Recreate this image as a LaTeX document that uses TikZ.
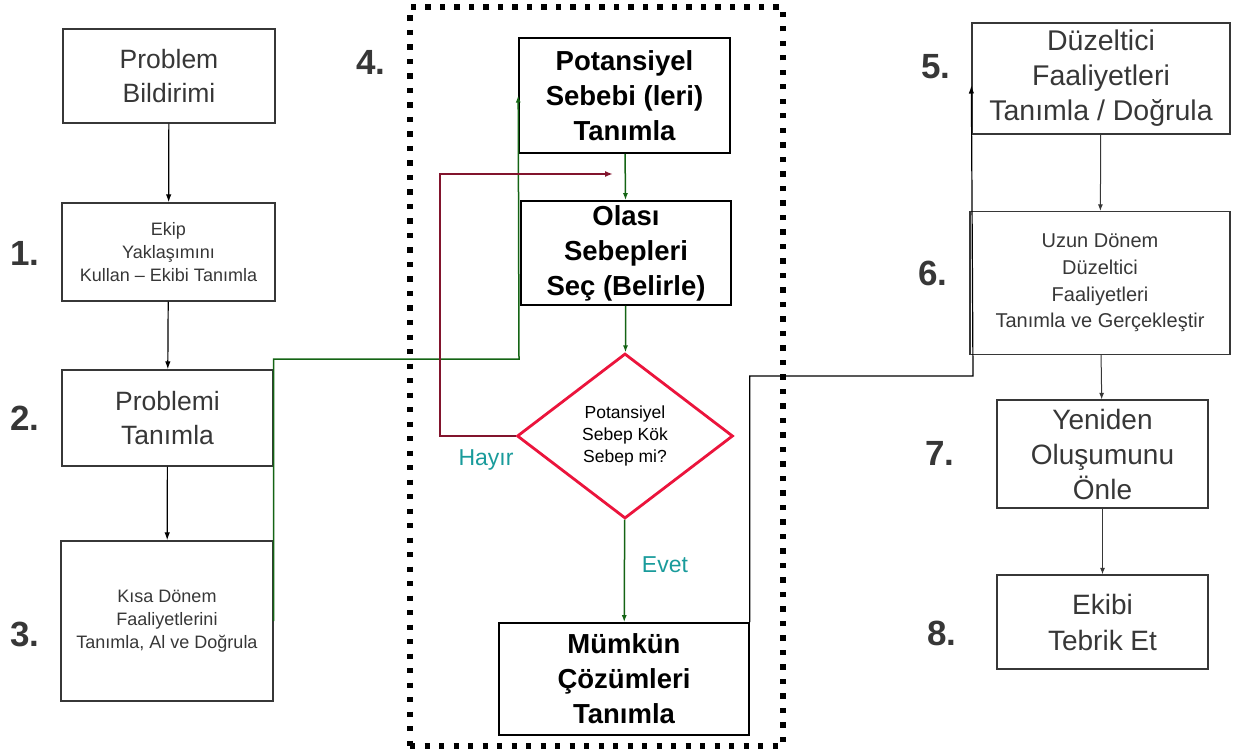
\documentclass[tikz,border=0pt]{standalone}
\usepackage{fontspec}
\setmainfont{Liberation Sans}
\usetikzlibrary{arrows.meta,shapes.geometric}
\definecolor{boxgray}{RGB}{55,55,55}
\definecolor{stepgreen}{RGB}{20,100,20}
\definecolor{loopred}{RGB}{130,20,45}
\definecolor{askred}{RGB}{235,20,60}
\definecolor{answerteal}{RGB}{25,155,155}
\newcommand{\bigfs}{\fontsize{26.5}{34}\selectfont}
\newcommand{\smallfs}{\fontsize{18}{23}\selectfont}
\tikzset{
  stepbox/.style={rectangle,draw=boxgray,line width=1.3pt,align=center,
    inner sep=0pt,text=boxgray},
  keybox/.style={rectangle,draw=black,line width=1.6pt,align=center,
    inner sep=0pt,font=\fontsize{27.5}{35}\selectfont\bfseries},
  stepno/.style={font=\fontsize{35}{40}\selectfont\bfseries,text=boxgray},
  plain/.style={-{Latex[length=8pt,width=5.5pt]},line width=1.2pt,draw=black}}

\begin{document}
\begin{tikzpicture}[x=1pt,y=-1pt,
  askbox/.style={diamond,draw=askred,line width=2.8pt,inner sep=0pt,
    minimum width=216pt,minimum height=165pt,align=center,
    font=\fontsize{17.5}{22}\selectfont},
  frame/.style={draw=black,line width=5.4pt,
    dash pattern=on 5.4pt off 9.1pt,minimum width=373pt,minimum height=739pt},
  green edge/.style={-{Latex[length=7pt,width=5pt]},line width=1.5pt,
    draw=stepgreen},
  loop edge/.style={-{Latex[length=8pt,width=6pt]},line width=1.7pt,
    draw=loopred},
  thin edge/.style={-{Latex[length=6.5pt,width=5pt]},line width=1pt,
    draw=boxgray},
  answer/.style={font=\fontsize{23}{27}\selectfont,text=answerteal}]

  \useasboundingbox (0,0) rectangle (1236,754);

  \node[frame] (frm) at (596.5,376.5) {};

  % left column
  \node[stepno] (n1) at (25,253) {1.};
  \node[stepno] (n2) at (25,418) {2.};
  \node[stepno] (n3) at (25,634) {3.};
  \node[stepbox,minimum width=212pt,minimum height=94pt,font=\bigfs]
    (pb) at (169,76) {Problem\\Bildirimi};
  \node[stepbox,minimum width=213pt,minimum height=98pt,font=\smallfs]
    (ek) at (168.5,252) {Ekip\\Yakla\c{s}\i m\i n\i\\Kullan -- Ekibi Tan\i mla};
  \node[stepbox,minimum width=211pt,minimum height=96pt,font=\bigfs]
    (pt) at (167.5,418) {Problemi\\Tan\i mla};
  \node[stepbox,minimum width=212pt,minimum height=160pt,font=\smallfs]
    (kd) at (167,621) {K\i sa D\"onem\\Faaliyetlerini\\Tan\i mla, Al ve Do\u{g}rula};

  \draw[plain] (pb) -- (ek);
  \draw[plain] (ek) -- (pt);
  \draw[plain] (pt) -- (kd);

  % middle column
  \node[stepno] (n4) at (371,62) {4.};
  \node[keybox,minimum width=211pt,minimum height=115pt]
    (ps) at (624.5,95.5) {Potansiyel\\Sebebi (leri)\\Tan\i mla};
  \node[keybox,minimum width=210pt,minimum height=104pt]
    (os) at (626,253) {Olas\i\\Sebepleri\\Se\c{c} (Belirle)};
  \node[askbox] (ask) at (625,436) {Potansiyel\\Sebep K\"ok\\Sebep mi?};
  \node[keybox,minimum width=250pt,minimum height=112pt]
    (mc) at (624,679) {M\"umk\"un\\\c{C}\"oz\"umleri\\Tan\i mla};
  \node[answer] (no) at (486,460) {Hay\i r};
  \node[answer] (yes) at (665,565) {Evet};

  \coordinate (gturn) at (519,359);
  \coordinate (rturn) at (440,174);
  \coordinate (rtip) at (613,174);
  \coordinate (bturn) at (973,376);

  \draw[green edge] (kd.east) |- (gturn) -- (ps.west);
  \draw[green edge] (ps) -- (os);
  \draw[green edge] (os) -- (ask);
  \draw[green edge] (ask) -- (mc);
  \draw[loop edge] (ask.west) -| (rturn) -- (rtip);

  % right column
  \node[stepno] (n5) at (936,67) {5.};
  \node[stepno] (n6) at (933,273) {6.};
  \node[stepno] (n7) at (940,453) {7.};
  \node[stepno] (n8) at (942,633) {8.};
  \node[stepbox,minimum width=258pt,minimum height=111pt,
    font=\fontsize{28.5}{35}\selectfont]
    (dz) at (1101,78.5) {D\"uzeltici\\Faaliyetleri\\Tan\i mla / Do\u{g}rula};
  \node[stepbox,minimum width=260pt,minimum height=143pt,
    font=\fontsize{20}{26.7}\selectfont]
    (ud) at (1100,283) {Uzun D\"onem\\D\"uzeltici\\Faaliyetleri\\Tan\i mla ve Ger\c{c}ekle\c{s}tir};
  \node[stepbox,minimum width=211pt,minimum height=108pt,
    font=\fontsize{28}{35}\selectfont]
    (yo) at (1102.5,454) {Yeniden\\Olu\c{s}umunu\\\"Onle};
  \node[stepbox,minimum width=211pt,minimum height=94pt,
    font=\fontsize{28}{36}\selectfont]
    (et) at (1102.5,622) {Ekibi\\Tebrik Et};

  \draw[plain] (mc.north east) |- (bturn) -- ([yshift=-7pt]dz.west);
  \draw[thin edge] (dz) -- (ud);
  \draw[thin edge] (ud) -- (yo);
  \draw[thin edge] (yo) -- (et);
\end{tikzpicture}
\end{document}
